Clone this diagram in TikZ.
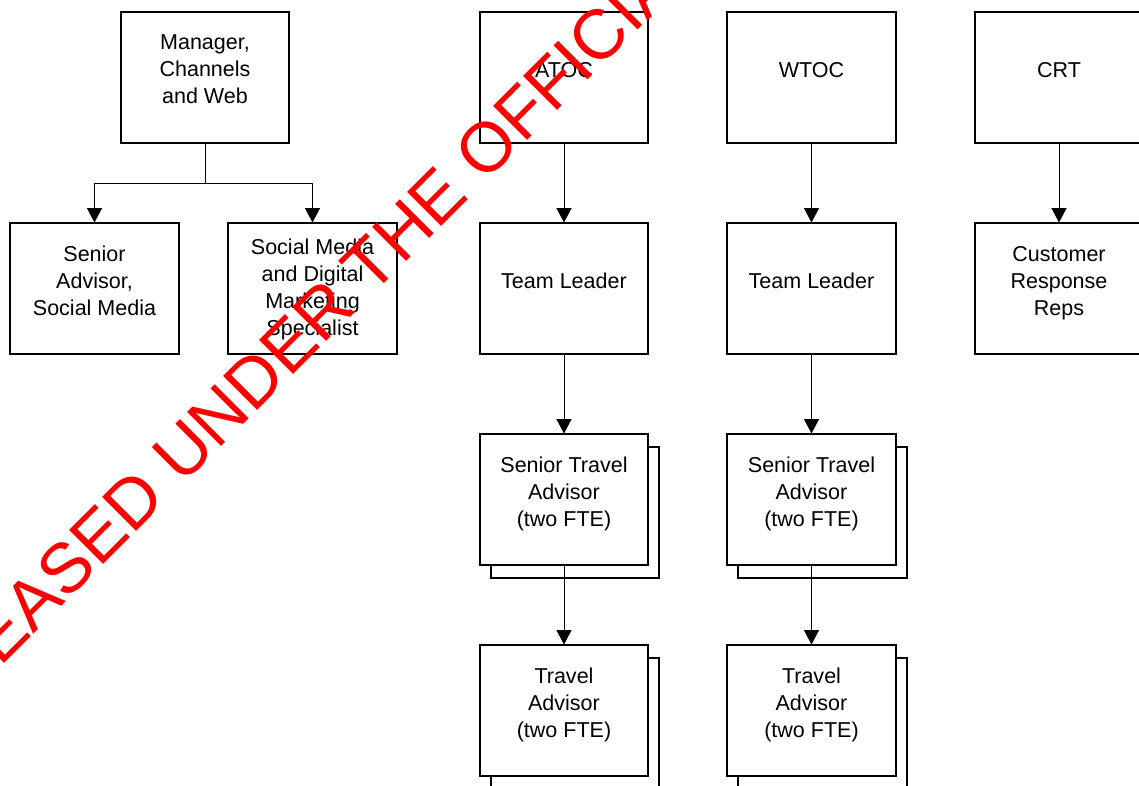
\documentclass[tikz,border=0pt]{standalone}
\usepackage{fontspec}
\setmainfont{Liberation Sans}
\usetikzlibrary{positioning,arrows.meta,shadows}

\tikzset{
orgbox/.style={rectangle, draw=black, line width=0.05cm, fill=white,
               minimum width=4.2cm, minimum height=3.25cm, inner sep=0pt,
               align=center, text depth=0.4cm,
               font=\fontsize{15.3}{19.2}\selectfont},
stackbox/.style={orgbox, copy shadow={shadow xshift=0.275cm, shadow yshift=-0.325cm}},
>={Triangle[width=0.375cm,length=0.36cm]},
link/.style={->, line width=0.025cm},
stamp/.style={text=red, font=\fontsize{49.8}{60}\selectfont, rotate=45,
              anchor=base west, inner sep=0pt},
}

\begin{document}
\begin{tikzpicture}[x=0.025cm, y=0.025cm]

    \useasboundingbox (0,0) rectangle (1139,-785);
    \clip (0,0) rectangle (1139,-785);

    % top row
    \node[orgbox] (mgr)  at(205, -77.5)  {Manager,\\Channels\\and Web};
    \node[orgbox] (atoc) at(564, -77.5)  {ATOC};
    \node[orgbox] (wtoc) at(811.5, -77.5)  {WTOC};
    \node[orgbox] (crt)  at(1059, -77.5)  {CRT};

    % second row
    \node[orgbox] (sa)  at(94.5, -288.5)  {Senior\\Advisor,\\Social Media};
    \node[orgbox, text depth=0.05cm] (smd) at(312.5, -288.5)  {Social Media\\and Digital\\Marketing\\Specialist};
    \node[orgbox] (atocTL) at(564, -288.5)  {Team Leader};
    \node[orgbox] (wtocTL) at(811.5, -288.5)  {Team Leader};
    \node[orgbox] (crtR) at(1059, -288.5)  {Customer\\Response\\Reps};

    % stacked boxes
    \node[stackbox] (atocSTA) at(564, -499.5)  {Senior Travel\\Advisor\\(two FTE)};
    \node[stackbox] (wtocSTA) at(811.5, -499.5)  {Senior Travel\\Advisor\\(two FTE)};
    \node[stackbox] (atocTA) at(564, -710.5)  {Travel\\Advisor\\(two FTE)};
    \node[stackbox] (wtocTA) at(811.5, -710.5)  {Travel\\Advisor\\(two FTE)};

    \draw[link] (mgr.south) -- ++(0,-40) -| (sa.north);
    \draw[link] (mgr.south) -- ++(0,-40) -| (smd.north);

    \draw[link] (atoc) -- (atocTL);
    \draw[link] (atocTL) -- (atocSTA);
    \draw[link] (atocSTA) -- (atocTA);

    \draw[link] (wtoc) -- (wtocTL);
    \draw[link] (wtocTL) -- (wtocSTA);
    \draw[link] (wtocSTA) -- (wtocTA);

    \draw[link] (crt) -- (crtR);

    % watermark
    \node[stamp] (wm) at(-96, -764)  {RELEASED UNDER THE OFFICIAL INFORMATION ACT};
\end{tikzpicture}
\end{document}
